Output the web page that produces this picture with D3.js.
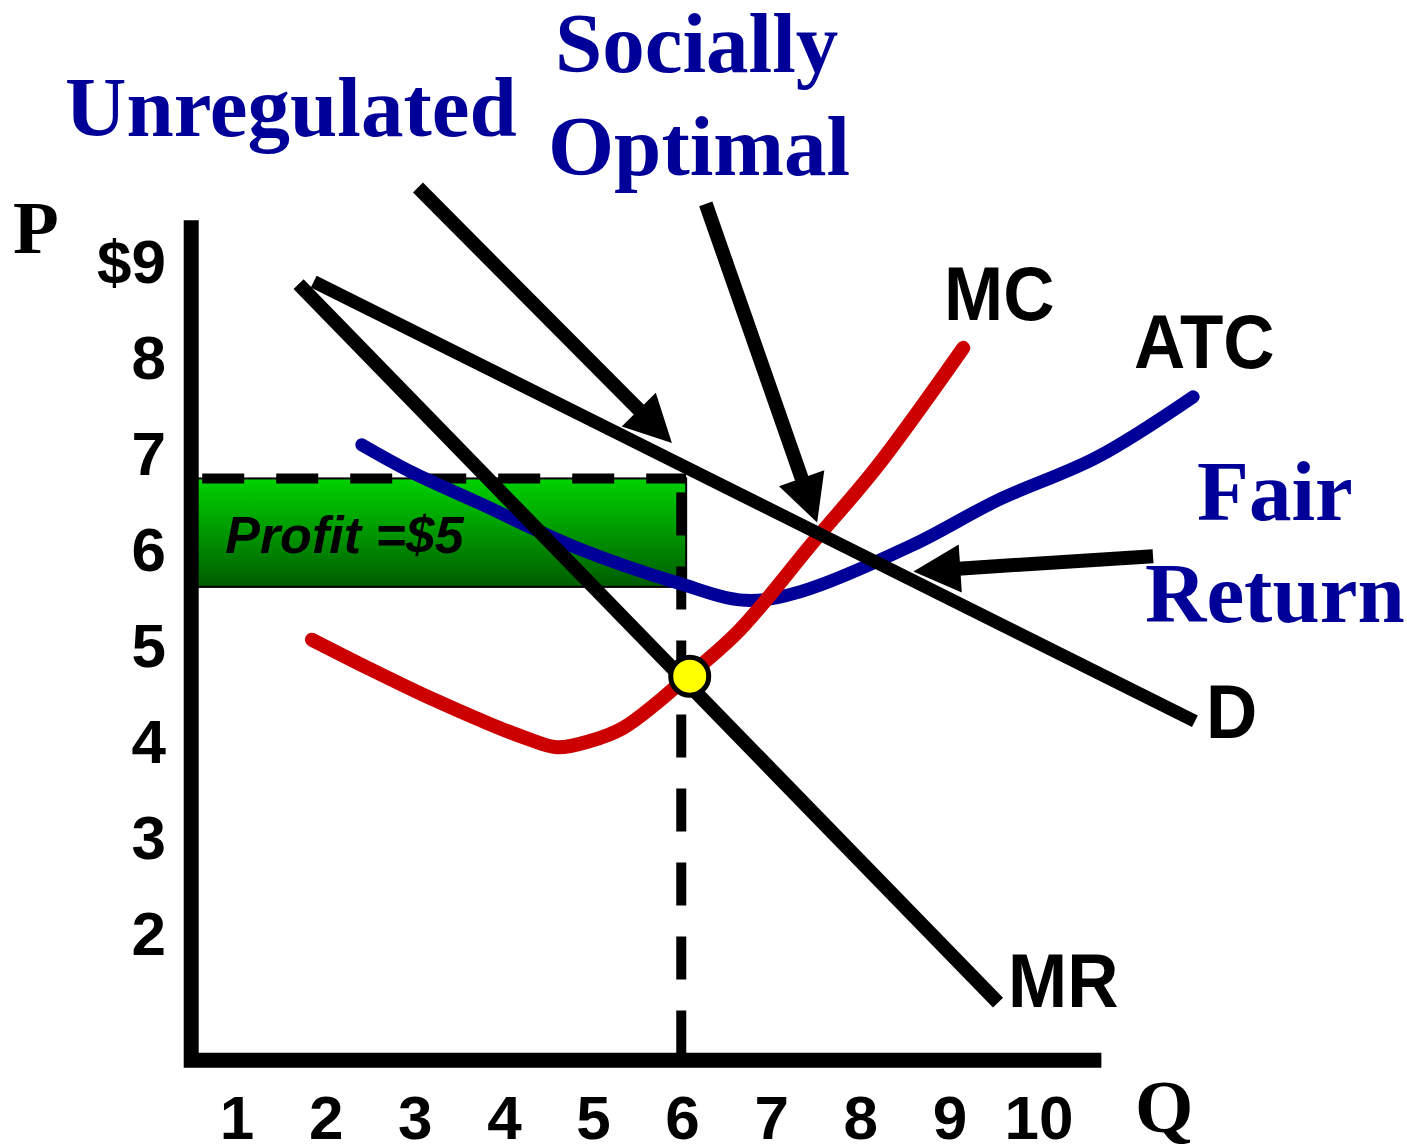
<!DOCTYPE html>
<html>
<head>
<meta charset="utf-8">
<script src="https://cdn.jsdelivr.net/npm/d3@7"></script>
<style>
  html, body { margin: 0; padding: 0; background: #ffffff; }
  svg { display: block; }
</style>
</head>
<body>
<svg id="chart" width="1407" height="1146"></svg>
<script>
// ---------- data ----------
const qTicks = [1, 2, 3, 4, 5, 6, 7, 8, 9, 10];
const qTickLabels = ["1", "2", "3", "4", "5", "6", "7", "8", "9", "10"];
const pTicks = [2, 3, 4, 5, 6, 7, 8, 9];
const pTickLabels = ["2", "3", "4", "5", "6", "7", "8", "$9"];

const demandQ = [1.86, 11.75];
const demandP = [8.78, 4.20];

const mrQ = [1.69, 9.54];
const mrP = [8.755, 1.27];

const mcQ = [1.84, 2.49, 3.165, 3.84, 4.21, 4.59, 4.96, 5.33, 5.71, 6.01, 6.64, 7.46, 8.18, 9.15];
const mcP = [5.05, 4.745, 4.443, 4.17, 4.036, 3.93, 3.995, 4.13, 4.39, 4.63, 5.15, 6.06, 6.85, 8.09];

const atcQ = [2.40, 2.97, 3.70, 4.83, 5.95, 6.70, 7.32, 8.59, 9.53, 10.65, 11.73];
const atcP = [7.08, 6.79, 6.48, 6.00, 5.64, 5.46, 5.55, 6.04, 6.50, 6.95, 7.58];

const profitQ = 6.04;        // right edge of profit box
const profitTop = 6.73;
const profitBottom = 5.60;
const profitLabel = "Profit =$5";

const dashQ = 5.985;         // quantity of the vertical dashed line
const eqQ = 6.08, eqP = 4.67; // highlighted MR = MC point

const axisQ = 0.485, axisP = 0.67, axisTopP = 9.42, axisEndQ = 10.7;

// annotation arrows: start and tip
const arrowStartQ = [3.03, 6.26, 11.28];
const arrowStartP = [9.76, 9.59, 5.92];
const arrowTipQ = [5.88, 7.51, 8.59];
const arrowTipP = [7.10, 6.27, 5.76];

// ---------- scales ----------
const svg = d3.select("#chart");
const x = d3.scaleLinear().domain([0, 10]).range([148, 1039]);
const y = d3.scaleLinear().domain([0, 9]).range([1124.5, 260.5]);

const BLUE = "#000099", RED = "#cc0000";
const SANS = "'Liberation Sans', Arial, sans-serif";
const SERIF = "'Liberation Serif', 'Times New Roman', serif";

// gradient
const defs = svg.append("defs");
const grad = defs.append("linearGradient").attr("id", "green")
  .attr("x1", 0).attr("y1", 0).attr("x2", 0).attr("y2", 1);
grad.append("stop").attr("offset", "0%").attr("stop-color", "#00d200");
grad.append("stop").attr("offset", "100%").attr("stop-color", "#005c00");

// ---------- profit box ----------
svg.append("rect")
  .attr("x", x(axisQ)).attr("y", y(profitTop))
  .attr("width", x(profitQ) - x(axisQ))
  .attr("height", y(profitBottom) - y(profitTop))
  .attr("fill", "url(#green)").attr("stroke", "#000").attr("stroke-width", 2);

svg.append("text")
  .attr("x", x(axisQ) + 34).attr("y", y(profitTop) + 75)
  .attr("font-family", SANS).attr("font-weight", "bold").attr("font-style", "italic")
  .attr("font-size", 52).attr("fill", "#000").text(profitLabel);

// dashed top of profit box
svg.append("line")
  .attr("x1", x(axisQ) + 11).attr("x2", x(profitQ))
  .attr("y1", y(profitTop)).attr("y2", y(profitTop))
  .attr("stroke", "#000").attr("stroke-width", 10).attr("stroke-dasharray", "42,32");

// vertical dashed line
svg.append("line")
  .attr("x1", x(dashQ)).attr("x2", x(dashQ))
  .attr("y1", y(profitTop) + 14).attr("y2", y(axisP))
  .attr("stroke", "#000").attr("stroke-width", 10).attr("stroke-dasharray", "43,31");

// ---------- curves ----------
const line = d3.line().x(d => x(d[0])).y(d => y(d[1]));
const smooth = d3.line().x(d => x(d[0])).y(d => y(d[1])).curve(d3.curveCatmullRom.alpha(0.5));

svg.append("path").datum(atcQ.map((q, i) => [q, atcP[i]]))
  .attr("d", smooth).attr("fill", "none").attr("stroke", BLUE)
  .attr("stroke-width", 13).attr("stroke-linecap", "round").attr("stroke-linejoin", "round");

svg.append("path").datum(mcQ.map((q, i) => [q, mcP[i]]))
  .attr("d", smooth).attr("fill", "none").attr("stroke", RED)
  .attr("stroke-width", 14).attr("stroke-linecap", "round").attr("stroke-linejoin", "round");

svg.append("path").datum(mrQ.map((q, i) => [q, mrP[i]]))
  .attr("d", line).attr("fill", "none").attr("stroke", "#000").attr("stroke-width", 14);

svg.append("path").datum(demandQ.map((q, i) => [q, demandP[i]]))
  .attr("d", line).attr("fill", "none").attr("stroke", "#000").attr("stroke-width", 13);

// ---------- arrows ----------
arrowStartQ.forEach((sq, i) => {
  const sx = x(sq), sy = y(arrowStartP[i]);
  const tx = x(arrowTipQ[i]), ty = y(arrowTipP[i]);
  const dx = tx - sx, dy = ty - sy, L = Math.hypot(dx, dy);
  const ux = dx / L, uy = dy / L, nx = -uy, ny = ux;
  const headL = 47, headW = 24;
  const bx = tx - ux * headL, by = ty - uy * headL;
  svg.append("line").attr("x1", sx).attr("y1", sy).attr("x2", bx + ux * 2).attr("y2", by + uy * 2)
    .attr("stroke", "#000").attr("stroke-width", 14);
  svg.append("path")
    .attr("d", `M${tx},${ty}L${bx + nx * headW},${by + ny * headW}L${bx - nx * headW},${by - ny * headW}Z`)
    .attr("fill", "#000");
});

// ---------- axes ----------
svg.append("path")
  .attr("d", `M${x(axisQ)},${y(axisTopP)}V${y(axisP)}H${x(axisEndQ)}`)
  .attr("fill", "none").attr("stroke", "#000").attr("stroke-width", 15)
  .attr("stroke-linejoin", "miter");

// equilibrium point
svg.append("circle").attr("cx", x(eqQ)).attr("cy", y(eqP)).attr("r", 19)
  .attr("fill", "#ffff00").attr("stroke", "#000").attr("stroke-width", 5);

// tick labels
svg.selectAll("text.pt").data(pTicks).enter().append("text")
  .attr("class", "pt").attr("x", 166).attr("y", d => y(d) + 22)
  .attr("text-anchor", "end").attr("font-family", SANS).attr("font-weight", "bold")
  .attr("font-size", 62).attr("fill", "#000").text((d, i) => pTickLabels[i]);

svg.selectAll("text.qt").data(qTicks).enter().append("text")
  .attr("class", "qt").attr("x", d => x(d)).attr("y", 1139)
  .attr("text-anchor", "middle").attr("font-family", SANS).attr("font-weight", "bold")
  .attr("font-size", 62).attr("fill", "#000").text((d, i) => qTickLabels[i]);

// axis titles
svg.append("text").attr("x", 13).attr("y", 253).attr("font-family", SERIF)
  .attr("font-weight", "bold").attr("font-size", 75).attr("fill", "#000").text("P");
svg.append("text").attr("x", 1135).attr("y", 1132).attr("font-family", SERIF)
  .attr("font-weight", "bold").attr("font-size", 75).attr("fill", "#000").text("Q");

// curve labels
const curveLabels = [
  { t: "MC", x: 944, y: 320 },
  { t: "ATC", x: 1134, y: 368 },
  { t: "D", x: 1206, y: 738 },
  { t: "MR", x: 1008, y: 1007 }
];
curveLabels.forEach(l => {
  svg.append("text").attr("transform", `translate(${l.x},${l.y}) scale(1,1.08)`)
    .attr("font-family", SANS).attr("font-weight", "bold").attr("font-size", 71)
    .attr("fill", "#000").text(l.t);
});

// blue annotation titles
const notes = [
  { t: "Unregulated", x: 65, y: 136 },
  { t: "Socially", x: 555, y: 72 },
  { t: "Optimal", x: 548, y: 175 },
  { t: "Fair", x: 1197, y: 520 },
  { t: "Return", x: 1145, y: 622 }
];
notes.forEach(n => {
  svg.append("text").attr("x", n.x).attr("y", n.y)
    .attr("font-family", SERIF).attr("font-weight", "bold").attr("font-size", 85)
    .attr("fill", BLUE).text(n.t);
});
</script>
</body>
</html>
